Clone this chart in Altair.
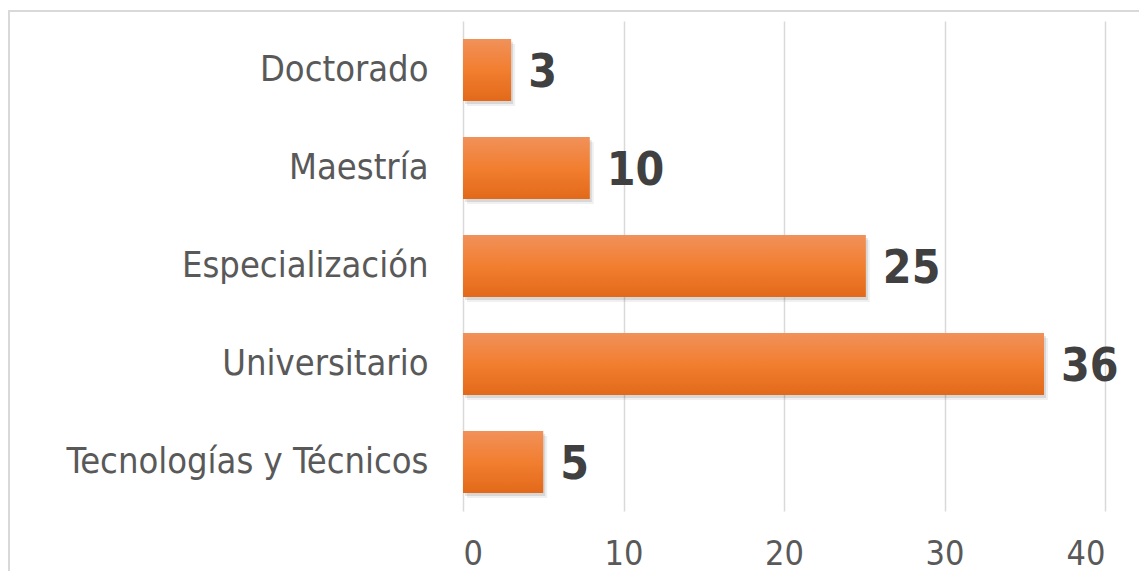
import altair as alt
import pandas as pd

categories = ["Doctorado", "Maestría", "Especialización", "Universitario", "Tecnologías y Técnicos"]
bar_values = [3, 7.9, 25.1, 36.2, 5]
value_labels = ["3", "10", "25", "36", "5"]
x_ticks = [0, 10, 20, 30, 40]

df = pd.DataFrame({"cat": categories, "val": bar_values, "lab": value_labels})

W, H = 642, 490
FONT = "DejaVu Sans Condensed, sans-serif"

y_enc = alt.Y(
    "cat:N", sort=categories,
    scale=alt.Scale(paddingInner=0.367, paddingOuter=0.184),
    axis=alt.Axis(title=None, labelFont=FONT, labelFontSize=36, labelColor="#595959",
                  labelPadding=35, labelLimit=0, ticks=False, domain=False),
)
x_enc = alt.X(
    "val:Q", scale=alt.Scale(domain=[0, 40]),
    axis=alt.Axis(values=x_ticks, title=None, grid=True, gridColor="#d9d9d9", gridWidth=1.5,
                  domain=False, ticks=False, labelFont=FONT, labelFontSize=34,
                  labelColor="#595959", labelPadding=26),
)

base = alt.Chart(df)

border = base.mark_rect(filled=False, stroke="#d9d9d9", strokeWidth=2).encode(
    x=alt.value(-454), x2=alt.value(W + 300), y=alt.value(-10), y2=alt.value(H + 300)
)

shadow1 = base.mark_bar(color="#000000", opacity=0.10, xOffset=2, yOffset=3).encode(x=x_enc, y=y_enc)
shadow2 = base.mark_bar(color="#000000", opacity=0.06, xOffset=4, yOffset=5).encode(x=x_enc, y=y_enc)

grad = alt.LinearGradient(
    gradient="linear", x1=0, y1=0, x2=0, y2=1,
    stops=[alt.GradientStop(color="#F1915A", offset=0),
           alt.GradientStop(color="#F27E30", offset=0.5),
           alt.GradientStop(color="#E2691A", offset=1)],
)
bars = base.mark_bar(color=grad).encode(x=x_enc, y=y_enc)

text = base.mark_text(align="left", baseline="middle", dx=17, dy=3, font=FONT, fontSize=46,
                      fontWeight="bold", color="#404040").encode(x=x_enc, y=y_enc, text="lab:N")

chart = alt.layer(border, shadow2, shadow1, bars, text).properties(
    width=W, height=H,
    padding={"left": 455, "top": 13, "right": 34, "bottom": 60},
    autosize=alt.AutoSizeParams(type="none"),
).configure_view(stroke=None)

chart.save("out.html", embed_options={"renderer": "svg", "actions": False})
